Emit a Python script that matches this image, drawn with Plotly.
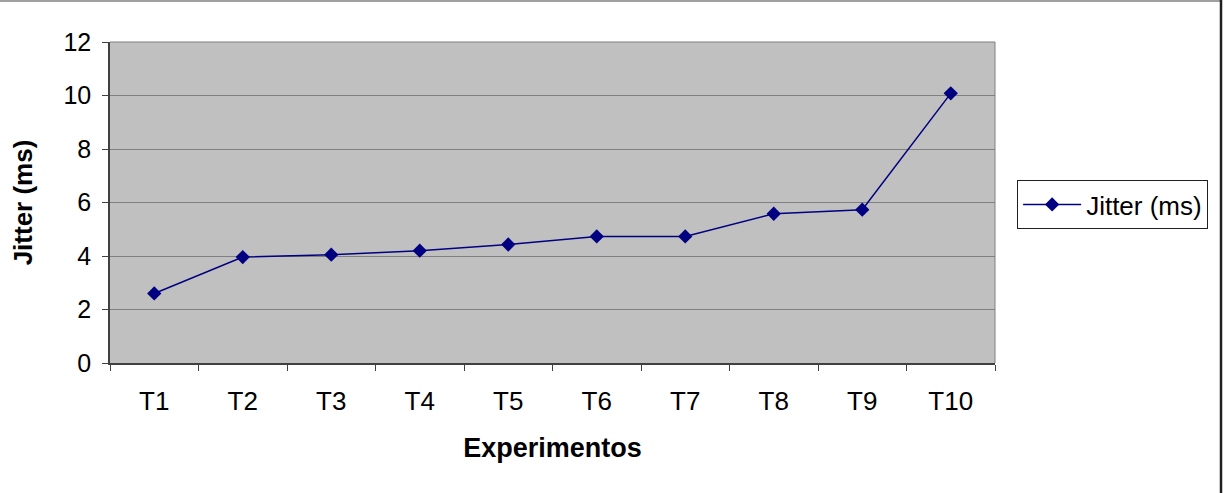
import plotly.graph_objects as go

categories = ["T1", "T2", "T3", "T4", "T5", "T6", "T7", "T8", "T9", "T10"]
jitter_ms = [2.6, 3.96, 4.05, 4.2, 4.43, 4.73, 4.73, 5.58, 5.73, 10.08]
y_ticks = [0, 2, 4, 6, 8, 10, 12]

FONT = "Liberation Sans, Arial, sans-serif"

fig = go.Figure()
fig.add_trace(go.Scatter(
    x=categories, y=jitter_ms, mode="lines+markers", name="Jitter (ms)",
    line=dict(color="#000080", width=1.5),
    marker=dict(symbol="diamond", size=11, color="#000080"),
))

fig.update_layout(
    width=1225, height=493,
    margin=dict(l=110, r=230, t=42, b=130),
    paper_bgcolor="white", plot_bgcolor="#C0C0C0",
    font=dict(family=FONT, size=25, color="black"),
    showlegend=True,
    legend=dict(
        x=1.025, y=0.57, xanchor="left", yanchor="top",
        bgcolor="white", bordercolor="#202020", borderwidth=1,
        itemwidth=58, tracegroupgap=0,
        font=dict(family=FONT, size=26, color="black"),
    ),
    xaxis=dict(
        type="category", tickson="boundaries", ticks="outside", ticklen=6,
        tickcolor="#404040", showline=True, linecolor="#404040", linewidth=1.5,
        showgrid=False, range=[-0.5, 9.5], ticklabelstandoff=14,
        tickfont=dict(family=FONT, size=26),
        title=dict(text="<b>Experimentos</b>", font=dict(family=FONT, size=27), standoff=23),
    ),
    yaxis=dict(
        range=[0, 12], tickvals=y_ticks, ticks="outside", ticklen=6,
        tickcolor="#404040", showline=True, linecolor="#404040", linewidth=1.5,
        showgrid=True, gridcolor="#808080", gridwidth=1, zeroline=False,
        ticklabelstandoff=6,
        tickfont=dict(family=FONT, size=25),
        title=dict(text="<b>Jitter (ms)</b>", font=dict(family=FONT, size=26), standoff=23),
    ),
    shapes=[
        dict(type="line", xref="paper", yref="paper", xsizemode="pixel", ysizemode="pixel",
             xanchor=0, yanchor=1, x0=-115, x1=1112, y0=41, y1=41,
             line=dict(color="#A0A0A0", width=2)),
        dict(type="line", xref="paper", yref="paper", xsizemode="pixel", ysizemode="pixel",
             xanchor=1, yanchor=0, x0=226, x1=226, y0=-140, y1=370,
             line=dict(color="#202020", width=2.5)),
        dict(type="line", xref="paper", yref="paper", x0=0, x1=1, y0=1, y1=1,
             line=dict(color="#808080", width=1)),
        dict(type="line", xref="paper", yref="paper", x0=1, x1=1, y0=0, y1=1,
             line=dict(color="#808080", width=1)),
    ],
)

fig.write_html("out.html")
